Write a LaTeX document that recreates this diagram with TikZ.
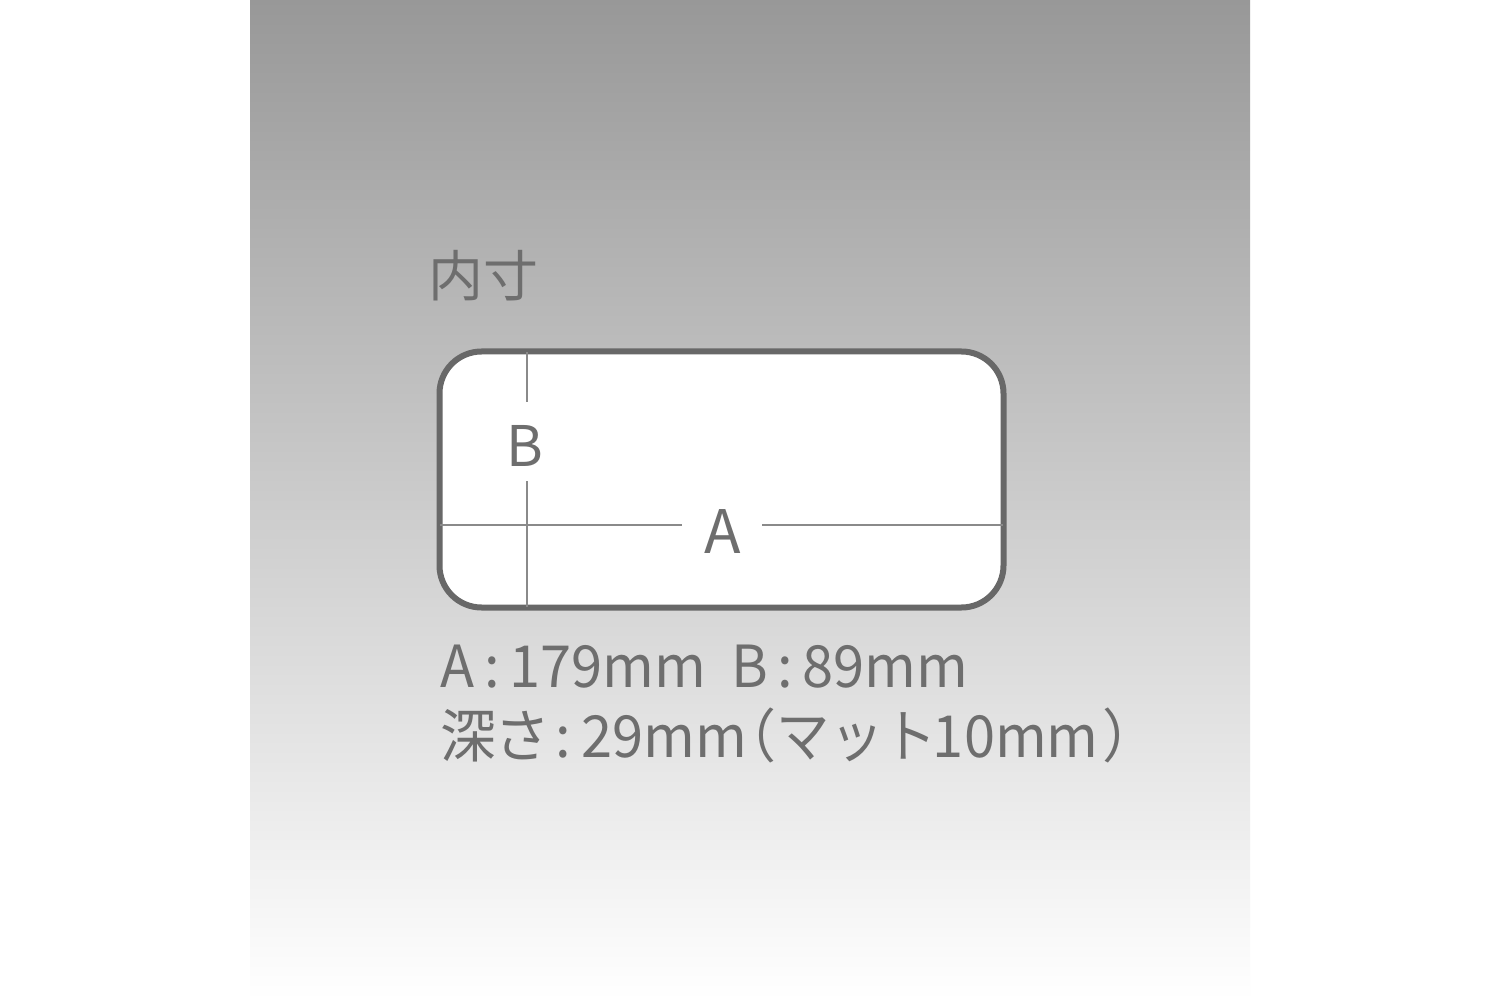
\documentclass[tikz,border=0pt]{standalone}
\usepackage{fontspec}
\setmainfont{Noto Sans CJK JP}
\newfontfamily\jpnarrow[RawFeature=+palt,FakeStretch=0.965]{Noto Sans CJK JP}
\newfontfamily\jpfull[FakeStretch=0.92]{Noto Sans CJK JP}
\definecolor{txt}{HTML}{6E6E6E}
\definecolor{frame}{HTML}{686868}
\definecolor{thin}{HTML}{8A8A8A}
\definecolor{gtop}{HTML}{989898}
\definecolor{gbot}{HTML}{FFFFFF}
\begin{document}
\begin{tikzpicture}[x=0.5pt,y=-0.5pt,
  lbl/.style={text=txt,inner sep=0pt,anchor=base west},
  boxframe/.style={draw=frame,line width=3pt,fill=white,rounded corners=21pt,
    minimum width=282pt,minimum height=128pt,inner sep=0pt},
  thinline/.style={draw=thin,line width=1.1pt}]
\useasboundingbox (0,0) rectangle (1500,1000);
\fill[white] (0,0) rectangle (1500,1000);
\shade[top color=gtop,bottom color=gbot] (250,0) rectangle (1250,1000);
\node[lbl] (title) at (428,297) {\fontsize{27.5pt}{32pt}\selectfont 内寸};
\node[boxframe] (box) at (721.5,479.5) {};
\coordinate (vt) at (527,352);
\coordinate (vg1) at (527,402);
\coordinate (vg2) at (527,481);
\coordinate (vb) at (527,607);
\coordinate (hl) at (440,525);
\coordinate (hg1) at (682,525);
\coordinate (hg2) at (762,525);
\coordinate (hr) at (1003,525);
\draw[thinline] (vt) -- (vg1);
\draw[thinline] (vg2) -- (vb);
\draw[thinline] (hl) -- (hg1);
\draw[thinline] (hg2) -- (hr);
\node[text=txt,inner sep=0pt] (b) at (525,446) {\fontsize{28pt}{32pt}\selectfont B};
\node[text=txt,inner sep=0pt] (a) at (723,532) {\fontsize{30pt}{34pt}\selectfont A};
\node[lbl] (dim1) at (440,687) {\fontsize{29pt}{34pt}\selectfont\jpnarrow A\,:\,179mm\ \ B\,:\,89mm};
\node[lbl] (dim2) at (440,757) {\fontsize{29pt}{34pt}\selectfont\jpnarrow 深さ\,:\,29mm（\hspace{1pt}{\jpfull マット}\hspace{-2pt}10mm\hspace{3pt}）};
\end{tikzpicture}
\end{document}
